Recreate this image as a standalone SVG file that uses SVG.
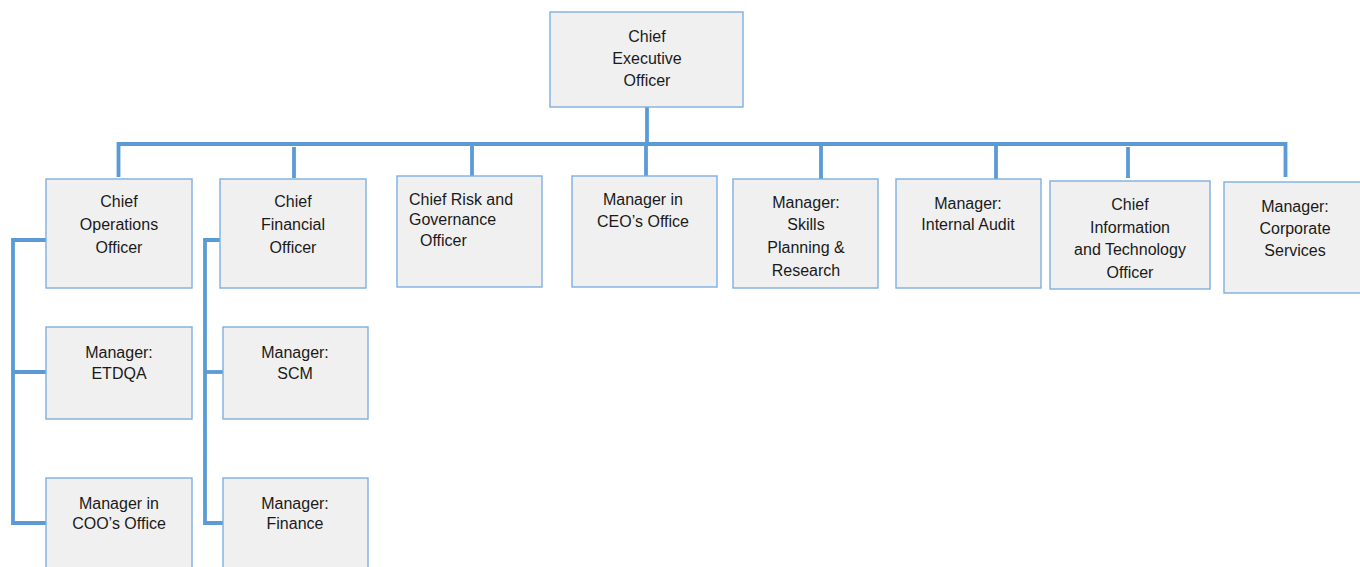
<svg xmlns="http://www.w3.org/2000/svg" width="1360" height="567" viewBox="0 0 1360 567">
  <style>
    .box { fill: #f0f0f0; stroke: #7eb0e0; stroke-width: 1.4; }
    .lbl { font-family: "Liberation Sans", Arial, sans-serif; font-size: 16px; fill: #1a1a1a; text-anchor: middle; }
    .lbl-l { text-anchor: start; }
    .wire { fill: none; stroke: #5b9bd5; stroke-width: 3.8; stroke-linejoin: miter; stroke-linecap: butt; }
  </style>
  <rect width="1360" height="567" fill="#ffffff"/>

  <!-- connectors -->
  <g id="connectors">
    <!-- CEO trunk and main bus -->
    <path class="wire" d="M647 107 V144"/>
    <path class="wire" d="M118.5 177 V144 H1285.5 V177"/>
    <!-- drops to the first tier -->
    <path class="wire" d="M294 147 V178"/>
    <path class="wire" d="M472 144 V176"/>
    <path class="wire" d="M646 144 V176"/>
    <path class="wire" d="M821 144 V179"/>
    <path class="wire" d="M996 144 V179"/>
    <path class="wire" d="M1128 147 V178"/>
    <!-- COO branch -->
    <path class="wire" d="M46 240 H13 V523 H46"/>
    <path class="wire" d="M13 372 H46"/>
    <!-- CFO branch -->
    <path class="wire" d="M220 240 H205 V523 H223"/>
    <path class="wire" d="M205 372 H223"/>
  </g>

  <g id="ceo">
    <rect class="box" x="550" y="12" width="193" height="95"/>
    <text class="lbl" x="647" y="42">Chief</text>
    <text class="lbl" x="647" y="64">Executive</text>
    <text class="lbl" x="647" y="86">Officer</text>
  </g>

  <g id="coo">
    <rect class="box" x="46" y="179" width="146" height="109"/>
    <text class="lbl" x="119" y="207">Chief</text>
    <text class="lbl" x="119" y="230">Operations</text>
    <text class="lbl" x="119" y="253">Officer</text>
  </g>

  <g id="cfo">
    <rect class="box" x="220" y="179" width="146" height="109"/>
    <text class="lbl" x="293" y="207">Chief</text>
    <text class="lbl" x="293" y="230">Financial</text>
    <text class="lbl" x="293" y="253">Officer</text>
  </g>

  <g id="crgo">
    <rect class="box" x="397" y="176" width="145" height="111"/>
    <text class="lbl lbl-l" x="409" y="205">Chief Risk and</text>
    <text class="lbl lbl-l" x="409" y="225">Governance</text>
    <text class="lbl lbl-l" x="420" y="246">Officer</text>
  </g>

  <g id="ceo-office">
    <rect class="box" x="572" y="176" width="145" height="111"/>
    <text class="lbl" x="643" y="205">Manager in</text>
    <text class="lbl" x="643" y="227">CEO’s Office</text>
  </g>

  <g id="skills">
    <rect class="box" x="733" y="179" width="145" height="109"/>
    <text class="lbl" x="806" y="208">Manager:</text>
    <text class="lbl" x="806" y="230">Skills</text>
    <text class="lbl" x="806" y="253">Planning &amp;</text>
    <text class="lbl" x="806" y="276">Research</text>
  </g>

  <g id="audit">
    <rect class="box" x="896" y="179" width="145" height="109"/>
    <text class="lbl" x="968" y="209">Manager:</text>
    <text class="lbl" x="968" y="230">Internal Audit</text>
  </g>

  <g id="cito">
    <rect class="box" x="1050" y="181" width="160" height="108"/>
    <text class="lbl" x="1130" y="210">Chief</text>
    <text class="lbl" x="1130" y="233">Information</text>
    <text class="lbl" x="1130" y="255">and Technology</text>
    <text class="lbl" x="1130" y="278">Officer</text>
  </g>

  <g id="corporate">
    <rect class="box" x="1224" y="182" width="145" height="111"/>
    <text class="lbl" x="1295" y="212">Manager:</text>
    <text class="lbl" x="1295" y="234">Corporate</text>
    <text class="lbl" x="1295" y="256">Services</text>
  </g>

  <g id="etdqa">
    <rect class="box" x="46" y="327" width="146" height="92"/>
    <text class="lbl" x="119" y="358">Manager:</text>
    <text class="lbl" x="119" y="379">ETDQA</text>
  </g>

  <g id="scm">
    <rect class="box" x="223" y="327" width="145" height="92"/>
    <text class="lbl" x="295" y="358">Manager:</text>
    <text class="lbl" x="295" y="379">SCM</text>
  </g>

  <g id="coo-office">
    <rect class="box" x="46" y="478" width="146" height="100"/>
    <text class="lbl" x="119" y="509">Manager in</text>
    <text class="lbl" x="119" y="529">COO’s Office</text>
  </g>

  <g id="finance">
    <rect class="box" x="223" y="478" width="145" height="100"/>
    <text class="lbl" x="295" y="509">Manager:</text>
    <text class="lbl" x="295" y="529">Finance</text>
  </g>
</svg>
